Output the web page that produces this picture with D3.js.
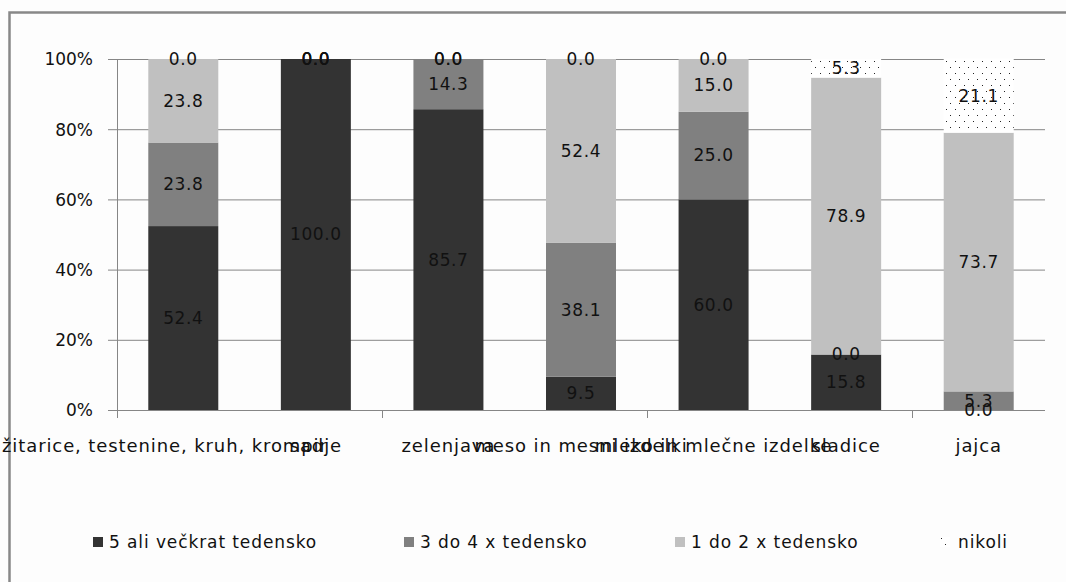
<!DOCTYPE html>
<html>
<head>
<meta charset="utf-8">
<script src="https://cdn.jsdelivr.net/npm/d3@7"></script>
<style>
  html, body { margin: 0; padding: 0; background: #fff; }
  svg { display: block; font-family: "DejaVu Sans", sans-serif; }
</style>
</head>
<body>
<svg id="chart" width="1066" height="582"></svg>
<script>
// Weekly consumption frequency by food group (share of respondents, %)
const categories = [
  "žitarice, testenine, kruh, krompir",
  "sadje",
  "zelenjava",
  "meso in mesni izdelki",
  "mleko in mlečne izdelke",
  "sladice",
  "jajca"
];
const seriesNames = ["5 ali večkrat tedensko", "3 do 4 x tedensko", "1 do 2 x tedensko", "nikoli"];
const fiveOrMore = [52.4, 100.0, 85.7, 9.5, 60.0, 15.8, 0.0];
const threeToFour = [23.8, 0.0, 14.3, 38.1, 25.0, 0.0, 5.3];
const oneToTwo   = [23.8, 0.0, 0.0, 52.4, 15.0, 78.9, 73.7];
const never      = [0.0, 0.0, 0.0, 0.0, 0.0, 5.3, 21.1];
const yTicks = [0, 20, 40, 60, 80, 100];

const seriesValues = [fiveOrMore, threeToFour, oneToTwo, never];
const fills = ["#333333", "#808080", "#c0c0c0", "url(#dots)"];

const rows = categories.map((c, i) => {
  const r = { category: c };
  seriesNames.forEach((s, k) => { r[s] = seriesValues[k][i]; });
  return r;
});

const svg = d3.select("#chart");
const W = 1066, H = 582;
const plotL = 117, plotR = 1045, plotT = 59, plotB = 410;

// dotted fill for the "nikoli" series
const defs = svg.append("defs");
const pat = defs.append("pattern").attr("id", "dots")
  .attr("patternUnits", "userSpaceOnUse").attr("width", 9).attr("height", 12);
pat.append("rect").attr("width", 9).attr("height", 12).attr("fill", "#fff");
pat.append("rect").attr("x", 1).attr("y", 1).attr("width", 1).attr("height", 1).attr("fill", "#222");
pat.append("rect").attr("x", 5).attr("y", 7).attr("width", 1).attr("height", 1).attr("fill", "#222");

svg.append("rect").attr("width", W).attr("height", H).attr("fill", "#fdfdfd");
// outer chart frame
svg.append("rect").attr("x", 9.5).attr("y", 12.5).attr("width", 1200).attr("height", 700)
  .attr("fill", "none").attr("stroke", "#888").attr("stroke-width", 2.5);

const x = d3.scaleBand().domain(categories).range([plotL, plotR])
  .paddingInner(0.472).paddingOuter(0.236);
const y = d3.scaleLinear().domain([0, 100]).range([plotB, plotT]);

// horizontal gridlines + y axis labels
const yAxis = svg.append("g").attr("transform", `translate(${plotL},0)`)
  .call(d3.axisLeft(y).tickValues(yTicks).tickSize(9).tickPadding(15).tickFormat(d => d + "%"));
yAxis.select(".domain").attr("stroke", "#868686");
yAxis.selectAll(".tick line").attr("stroke", "#868686");
yAxis.selectAll(".tick text").attr("fill", "#111").style("font-size", "17px")
  .style("font-family", "DejaVu Sans").attr("dy", "0.35em");

svg.append("g").attr("transform", `translate(${plotL},0)`)
  .call(d3.axisLeft(y).tickValues(yTicks.filter(v => v > 0)).tickSize(-(plotR - plotL)).tickFormat(""))
  .call(g => g.select(".domain").remove())
  .selectAll(".tick line").attr("stroke", "#868686");

// stacked bars
const stacked = d3.stack().keys(seriesNames)(rows);
const layers = svg.append("g").selectAll("g").data(stacked).join("g")
  .attr("fill", (d, k) => fills[k]);
layers.selectAll("rect").data(d => d).join("rect")
  .attr("x", d => x(d.data.category))
  .attr("width", x.bandwidth())
  .attr("y", d => y(d[1]))
  .attr("height", d => y(d[0]) - y(d[1]));

// x axis line with a tick every second category boundary
svg.append("line").attr("x1", plotL).attr("x2", plotR).attr("y1", plotB + 0.5).attr("y2", plotB + 0.5)
  .attr("stroke", "#868686");
const step = x.step();
const tickIdx = d3.range(0, categories.length + 1, 2);
svg.append("g").selectAll("line").data(tickIdx).join("line")
  .attr("x1", i => Math.round(plotL + i * step) + 0.5).attr("x2", i => Math.round(plotL + i * step) + 0.5)
  .attr("y1", plotB).attr("y2", plotB + 8).attr("stroke", "#868686");

// category labels; the long first one is pushed against the left edge
const xAxis = svg.append("g").attr("transform", `translate(0,${plotB})`)
  .call(d3.axisBottom(x).tickSize(0).tickPadding(29));
xAxis.select(".domain").remove();
xAxis.selectAll(".tick text").attr("fill", "#111").style("font-size", "18px")
  .style("font-family", "DejaVu Sans").style("letter-spacing", "0.9px");
xAxis.selectAll(".tick text").filter((d, i) => i === 0).each(function (d) {
  const box = this.getBBox();
  const tx = x(d) + x.bandwidth() / 2;
  d3.select(this).attr("x", 2 - (tx + box.x));
});

// value labels
const labels = svg.append("g");
stacked.forEach(layer => {
  labels.selectAll(null).data(layer).join("text")
    .attr("x", d => x(d.data.category) + x.bandwidth() / 2)
    .attr("y", d => y((d[0] + d[1]) / 2))
    .attr("dy", "0.35em")
    .attr("text-anchor", "middle")
    .attr("fill", "#111")
    .style("font-size", "17px")
    .style("letter-spacing", "0.6px")
    .text(d => (d[1] - d[0]).toFixed(1));
});

// legend
const legendX = [93, 404, 675, 940];
const legend = svg.append("g");
seriesNames.forEach((s, k) => {
  const g = legend.append("g").attr("transform", `translate(${legendX[k]},537)`);
  g.append("rect").attr("width", 10).attr("height", 10).attr("fill", fills[k]);
  g.append("text").attr("x", k === 3 ? 18 : 16).attr("y", 5).attr("dy", "0.35em")
    .attr("fill", "#111").style("font-size", "17px").style("letter-spacing", "0.9px").text(s);
});
</script>
</body>
</html>
